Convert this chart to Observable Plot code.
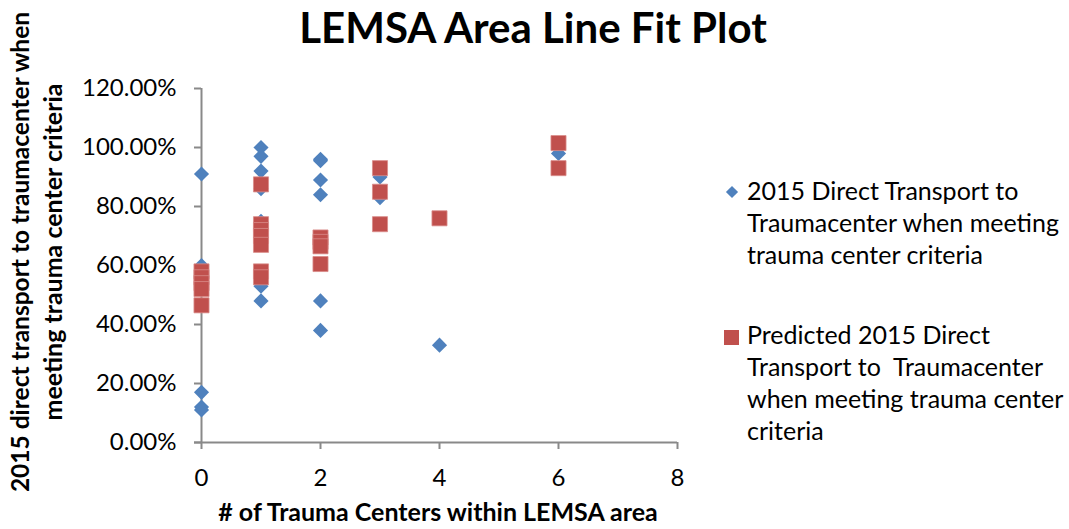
<!DOCTYPE html>
<html>
<head>
<meta charset="utf-8">
<script src="https://cdn.jsdelivr.net/npm/d3@7"></script>
<script src="https://cdn.jsdelivr.net/npm/@observablehq/plot@0.6"></script>
<style>
  html, body { margin: 0; padding: 0; background: #fff; }
  #chart { width: 1069px; height: 529px; }
</style>
</head>
<body>
<div id="chart"></div>
<script>
// ---- data ----
const actualX = [0, 0, 0, 0, 0, 1, 1, 1, 1, 1, 1, 1, 2, 2, 2, 2, 2, 2, 3, 3, 4, 6];
const actualY = [0.91, 0.60, 0.17, 0.12, 0.11, 1.00, 0.97, 0.92, 0.86, 0.75, 0.53, 0.48, 0.96, 0.955, 0.89, 0.84, 0.48, 0.38, 0.90, 0.83, 0.33, 0.98];
const predX = [0, 0, 0, 0, 0, 1, 1, 1, 1, 1, 1, 1, 2, 2, 2, 2, 3, 3, 3, 4, 6, 6];
const predY = [0.58, 0.56, 0.54, 0.52, 0.465, 0.875, 0.74, 0.72, 0.70, 0.67, 0.58, 0.56, 0.695, 0.68, 0.665, 0.605, 0.93, 0.85, 0.74, 0.76, 1.015, 0.93];
const yTicks = [0, 0.2, 0.4, 0.6, 0.8, 1.0, 1.2];
const xTicks = [0, 2, 4, 6, 8];
const title = "LEMSA Area Line Fit Plot";
const xTitle = "# of Trauma Centers within LEMSA area";
const yTitle = ["2015 direct transport to traumacenter when", "meeting trauma center criteria"];
const legendActual = ["2015 Direct Transport to", "Traumacenter when meeting", "trauma center criteria"];
const legendPred = ["Predicted 2015 Direct", "Transport to  Traumacenter", "when meeting trauma center", "criteria"];

const actual = actualX.map((x, i) => ({x, y: actualY[i]}));
const pred = predX.map((x, i) => ({x, y: predY[i]}));

const BLUE = "#4F81BD", RED = "#C0504D", AXIS = "#898989";
const FONT = "Lato, 'Open Sans', sans-serif";

const plot = Plot.plot({
  width: 1069,
  height: 529,
  marginLeft: 201,
  marginRight: 392,
  marginTop: 88,
  marginBottom: 87,
  style: {fontFamily: FONT, fontSize: "24px", color: "#000", background: "#fff", overflow: "visible"},
  x: {domain: [0, 8]},
  y: {domain: [0, 1.2]},
  marks: [
    Plot.axisY(yTicks, {tickFormat: d3.format(".2%"), tickSize: 7, tickPadding: 18, stroke: AXIS, strokeWidth: 2, strokeOpacity: 1, fill: "#000", label: null, fontSize: 24}),
    Plot.axisX(xTicks, {tickSize: 7, tickPadding: 19, stroke: AXIS, strokeWidth: 2, strokeOpacity: 1, fill: "#000", label: null, fontSize: 24}),
    Plot.ruleX([0], {stroke: AXIS, strokeWidth: 2}),
    Plot.ruleY([0], {stroke: AXIS, strokeWidth: 2, insetLeft: -7}),
    Plot.dot(actual, {x: "x", y: "y", symbol: "diamond2", r: 6.8, fill: BLUE, stroke: "none"}),
    Plot.dot(pred, {x: "x", y: "y", symbol: "square", r: 8.5, fill: RED, stroke: "#d98b89", strokeWidth: 0.8})
  ]
});

const svg = d3.select(plot);
// title
svg.append("text").attr("x", 533).attr("y", 43).attr("text-anchor", "middle")
  .attr("font-family", FONT).attr("font-weight", "bold").attr("font-size", 42).attr("fill", "#000").text(title);
// x title
svg.append("text").attr("x", 438).attr("y", 521).attr("text-anchor", "middle")
  .attr("font-family", FONT).attr("font-weight", "bold").attr("font-size", 25).attr("fill", "#000").text(xTitle);
// y title
const yx = [29, 62];
const yc = [252, 252];
yTitle.forEach((t, i) => {
  svg.append("text").attr("transform", `translate(${yx[i]},${yc[i]}) rotate(-90)`).attr("text-anchor", "middle")
    .attr("font-family", FONT).attr("font-weight", "bold").attr("font-size", i === 0 ? 24.5 : 25).attr("fill", "#000").text(t);
});
// legend
const lg = svg.append("g").attr("font-family", FONT).attr("font-size", 25).attr("fill", "#000").attr("text-anchor", "start");
lg.append("path").attr("d", d3.symbol(d3.symbolDiamond2, Math.PI * 5.5 * 5.5)()).attr("transform", "translate(732,192)").attr("fill", BLUE);
lg.append("rect").attr("x", 724).attr("y", 330).attr("width", 15).attr("height", 15).attr("fill", RED);
legendActual.forEach((t, i) => lg.append("text").attr("x", 747).attr("y", 200 + i * 32).text(t));
legendPred.forEach((t, i) => lg.append("text").attr("x", 747).attr("y", 344 + i * 32).style("white-space", "pre").text(t));

document.getElementById("chart").appendChild(plot);
</script>
</body>
</html>
